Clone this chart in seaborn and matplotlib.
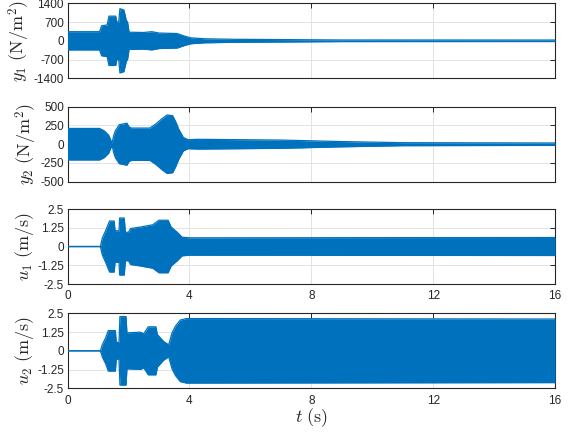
import matplotlib
matplotlib.use("Agg")
import matplotlib.pyplot as plt
import numpy as np
import seaborn as sns

# Envelope breakpoints (time in s, half-amplitude) of each oscillating response
y1_t = [0, 1.05, 1.12, 1.3, 1.36, 1.58, 1.62, 1.68, 1.72, 1.85, 1.93, 1.97, 2.02,
        2.5, 2.77, 3.0, 3.6, 3.85, 4.05, 4.5, 5.5, 7, 9, 16]
y1_a = [340, 340, 560, 590, 920, 920, 700, 700, 1200, 1150, 760, 700, 320,
        310, 340, 290, 270, 170, 110, 75, 55, 45, 30, 28]

y2_t = [0, 1.05, 1.2, 1.35, 1.46, 1.52, 1.57, 1.7, 1.95, 2.02, 2.1, 2.7, 2.9,
        3.1, 3.27, 3.45, 3.55, 3.65, 3.8, 3.95, 4.3, 7, 9, 11, 16]
y2_a = [210, 210, 180, 120, 15, 120, 180, 260, 280, 230, 215, 215, 270,
        340, 390, 380, 300, 200, 90, 60, 65, 55, 35, 20, 16]

u1_t = [0, 1.08, 1.14, 1.25, 1.38, 1.53, 1.56, 1.69, 1.71, 1.86, 1.9, 2.0, 2.07,
        2.4, 2.8, 3.0, 3.3, 3.4, 3.6, 3.76, 4.0, 16]
u1_a = [0, 0, 0.55, 1.05, 1.7, 1.7, 1.05, 1.05, 1.9, 1.9, 0.95, 0.95, 1.2,
        1.3, 1.45, 1.75, 1.75, 1.3, 0.95, 0.62, 0.58, 0.6]

u2_t = [0, 1.08, 1.14, 1.25, 1.34, 1.57, 1.6, 1.69, 1.72, 1.92, 1.95, 2.4, 2.5,
        2.65, 2.9, 2.95, 3.15, 3.32, 3.43, 3.54, 3.7, 3.9, 16]
u2_a = [0, 0, 0.4, 0.86, 1.35, 1.35, 0.56, 0.56, 2.28, 2.28, 1.2, 1.24, 1.13,
        1.6, 1.6, 1.08, 0.63, 0.4, 1.2, 1.64, 2.05, 2.15, 2.12]

x_ticks = [0, 4, 8, 12, 16]
y1_ticks = [-1400, -700, 0, 700, 1400]
y2_ticks = [-500, -250, 0, 250, 500]
u_ticks = [-2.5, -1.25, 0, 1.25, 2.5]

y1_labels = ["-1400", "-700", "0", "700", "1400"]
y2_labels = ["-500", "-250", "0", "250", "500"]
u_labels = ["-2.5", "-1.25", "0", "1.25", "2.5"]

panels = [
    (y1_t, y1_a, y1_ticks, y1_labels, r"$y_1\ (\mathrm{N/m}^2)$"),
    (y2_t, y2_a, y2_ticks, y2_labels, r"$y_2\ (\mathrm{N/m}^2)$"),
    (u1_t, u1_a, u_ticks, u_labels, r"$u_1\ (\mathrm{m/s})$"),
    (u2_t, u2_a, u_ticks, u_labels, r"$u_2\ (\mathrm{m/s})$"),
]

sns.set_theme(style="white")
plt.rcParams["font.family"] = ["Liberation Sans", "DejaVu Sans"]
plt.rcParams["mathtext.fontset"] = "cm"

BLUE = "#0072BD"
INK = "#262626"

fig = plt.figure(figsize=(5.75, 4.33), dpi=100)
left, width, height = 0.1174, 0.848, 0.1732
bottoms = [0.8192, 0.5804, 0.3441, 0.1032]

for i, (t, a, ticks, labels, ylab) in enumerate(panels):
    ax = fig.add_axes([left, bottoms[i], width, height])
    t = np.asarray(t, dtype=float)
    a = np.asarray(a, dtype=float)
    ax.fill_between(t, -a, a, color=BLUE, linewidth=0, zorder=3)
    sns.lineplot(x=t, y=a, ax=ax, color=BLUE, linewidth=0.9, sort=False,
                 estimator=None, zorder=4)
    sns.lineplot(x=t, y=-a, ax=ax, color=BLUE, linewidth=0.9, sort=False,
                 estimator=None, zorder=4)

    ax.set_xlim(0, 16)
    ax.set_ylim(ticks[0], ticks[-1])
    ax.set_xticks(x_ticks)
    ax.set_yticks(ticks)
    ax.set_yticklabels(labels)
    if i < 2:
        ax.set_xticklabels([])
    else:
        ax.set_xticklabels([str(v) for v in x_ticks])

    ax.grid(True, color="#e3e3e3", linewidth=0.7)
    ax.set_axisbelow(True)
    ax.tick_params(direction="in", top=True, right=True, length=3.5,
                   width=0.7, colors=INK, labelsize=8.5)
    ax.tick_params(axis="y", pad=2.5)
    ax.tick_params(axis="x", pad=4.5)
    for sp in ax.spines.values():
        sp.set_color(INK)
        sp.set_linewidth(0.8)
    ax.set_ylabel(ylab, fontsize=13, color=INK, labelpad=1)
    ax.set_xlabel("")

ax.set_xlabel(r"$t\ (\mathrm{s})$", fontsize=13, color=INK, labelpad=0)

fig.savefig("out.png", dpi=100)
